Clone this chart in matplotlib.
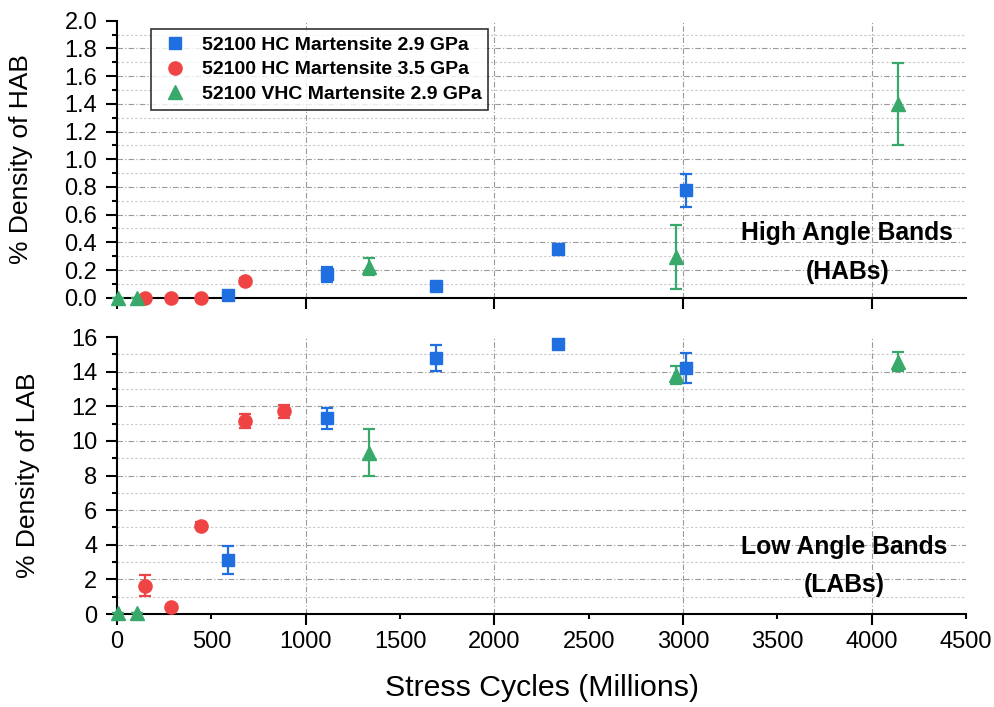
import numpy as np
import matplotlib
matplotlib.use('Agg')
import matplotlib.pyplot as plt
from matplotlib.ticker import MultipleLocator, FormatStrFormatter

plt.rcParams['font.family'] = ['Liberation Sans', 'DejaVu Sans']

# ---- data ----
# 52100 HC Martensite 2.9 GPa (blue squares)
hc29_x = [590, 1115, 1689, 2339, 3015]
hc29_hab = [0.02, 0.17, 0.085, 0.35, 0.775]
hc29_hab_err = [0.01, 0.055, 0.02, 0.02, 0.12]
hc29_lab = [3.12, 11.3, 14.79, 15.62, 14.2]
hc29_lab_err = [0.79, 0.6, 0.74, 0.1, 0.88]

# 52100 HC Martensite 3.5 GPa (red circles)
hc35_hab_x = [150, 286, 445, 678]
hc35_hab = [0.0, 0.0, 0.0, 0.123]
hc35_hab_err = [0.0, 0.0, 0.0, 0.02]
hc35_lab_x = [150, 286, 445, 678, 883]
hc35_lab = [1.64, 0.39, 5.1, 11.17, 11.71]
hc35_lab_err = [0.62, 0.1, 0.2, 0.4, 0.37]

# 52100 VHC Martensite 2.9 GPa (green triangles)
vhc29_x = [5, 105, 1337, 2961, 4139]
vhc29_hab = [0.0, 0.0, 0.224, 0.296, 1.40]
vhc29_hab_err = [0.0, 0.0, 0.06, 0.23, 0.295]
vhc29_lab = [0.05, 0.05, 9.33, 13.8, 14.58]
vhc29_lab_err = [0.0, 0.0, 1.38, 0.53, 0.56]

labels = ['52100 HC Martensite 2.9 GPa', '52100 HC Martensite 3.5 GPa',
          '52100 VHC Martensite 2.9 GPa']
colors = ['#1f6fe0', '#f04444', '#38a96a']
markers = ['s', 'o', '^']
msizes = [8.5, 9.5, 10.5]

fig = plt.figure(figsize=(9.95, 7.07), dpi=100)
ax_top = fig.add_axes([0.1176, 0.5789, 0.8533, 0.3918])
ax_bot = fig.add_axes([0.1176, 0.1315, 0.8533, 0.3918])

major_grid = dict(color='#9a9a9a', lw=0.8, ls=(0, (5, 2, 1, 2)), zorder=0.5)
minor_grid = dict(color='#c8c8c8', lw=0.8, ls=(0, (2, 2)), zorder=0.5)

series_top = [(hc29_x, hc29_hab, hc29_hab_err),
              (hc35_hab_x, hc35_hab, hc35_hab_err),
              (vhc29_x, vhc29_hab, vhc29_hab_err)]
series_bot = [(hc29_x, hc29_lab, hc29_lab_err),
              (hc35_lab_x, hc35_lab, hc35_lab_err),
              (vhc29_x, vhc29_lab, vhc29_lab_err)]


def draw_panel(ax, series, ymax, ystep):
    # grid (no line at the top limit, like the original)
    for y in np.arange(ystep, ymax - ystep / 4, ystep):
        ax.axhline(y, **major_grid)
    for y in np.arange(ystep / 2, ymax, ystep):
        ax.axhline(y, **minor_grid)
    for x in range(1000, 4500, 1000):
        ax.axvline(x, **major_grid)

    for (x, y, e), c, m, ms, lab in zip(series, colors, markers, msizes, labels):
        ax.errorbar(x, y, yerr=e, fmt='none', ecolor=c, elinewidth=1.6,
                    capsize=4.5, capthick=1.6, zorder=3, clip_on=False)
        ax.plot(x, y, ls='none', marker=m, ms=ms, color=c, mec=c,
                label=lab, zorder=4, clip_on=False)

    ax.set_xlim(0, 4500)
    ax.set_ylim(0, ymax)
    for s in ['top', 'right']:
        ax.spines[s].set_visible(False)
    for s in ['left', 'bottom']:
        ax.spines[s].set_linewidth(1.5)
    ax.yaxis.set_major_locator(MultipleLocator(ystep))
    ax.yaxis.set_minor_locator(MultipleLocator(ystep / 2))
    ax.xaxis.set_major_locator(MultipleLocator(1000))
    ax.tick_params(which='major', direction='out', length=7.7, width=1.5,
                   labelsize=17)
    ax.tick_params(which='minor', direction='out', length=3.6, width=1.5)
    ax.tick_params(axis='y', which='major', pad=6.5)


draw_panel(ax_top, series_top, 2.0, 0.2)
draw_panel(ax_bot, series_bot, 16, 2)

ax_top.yaxis.set_major_formatter(FormatStrFormatter('%.1f'))
ax_top.tick_params(axis='x', which='both', labelbottom=False)
ax_top.xaxis.set_minor_locator(plt.NullLocator())

ax_bot.xaxis.set_minor_locator(MultipleLocator(500))
ax_bot.xaxis.set_minor_formatter(FormatStrFormatter('%d'))
ax_bot.tick_params(axis='x', which='major', pad=4.3)
ax_bot.tick_params(axis='x', which='minor', pad=8.4, labelsize=17)

ax_top.set_ylabel('% Density of HAB', fontsize=19)
ax_bot.set_ylabel('% Density of LAB', fontsize=19)
ax_top.yaxis.set_label_coords(-0.0989, 0.5)
ax_bot.yaxis.set_label_coords(-0.0907, 0.5)
ax_bot.set_xlabel('Stress Cycles (Millions)', fontsize=21.8)
ax_bot.xaxis.set_label_coords(0.5, -0.215)

# band annotations
ax_top.text(3870, 0.467, 'High Angle Bands', ha='center', va='center',
            fontsize=17.8, fontweight='bold')
ax_top.text(3870, 0.188, '(HABs)', ha='center', va='center',
            fontsize=17.8, fontweight='bold')
ax_bot.text(3853, 3.89, 'Low Angle Bands', ha='center', va='center',
            fontsize=17.8, fontweight='bold')
ax_bot.text(3853, 1.68, '(LABs)', ha='center', va='center',
            fontsize=17.8, fontweight='bold')

leg = ax_top.legend(loc='upper left', bbox_to_anchor=(150.7 / 995, 1 - 29.3 / 707),
                    bbox_transform=fig.transFigure, borderaxespad=0,
                    prop={'size': 14, 'weight': 'bold'}, frameon=True,
                    fancybox=False, edgecolor='black', borderpad=0.35,
                    handlelength=1.8, handletextpad=0.48, labelspacing=0.36)
leg.get_frame().set_linewidth(1.2)

fig.savefig('out.png', dpi=100)
